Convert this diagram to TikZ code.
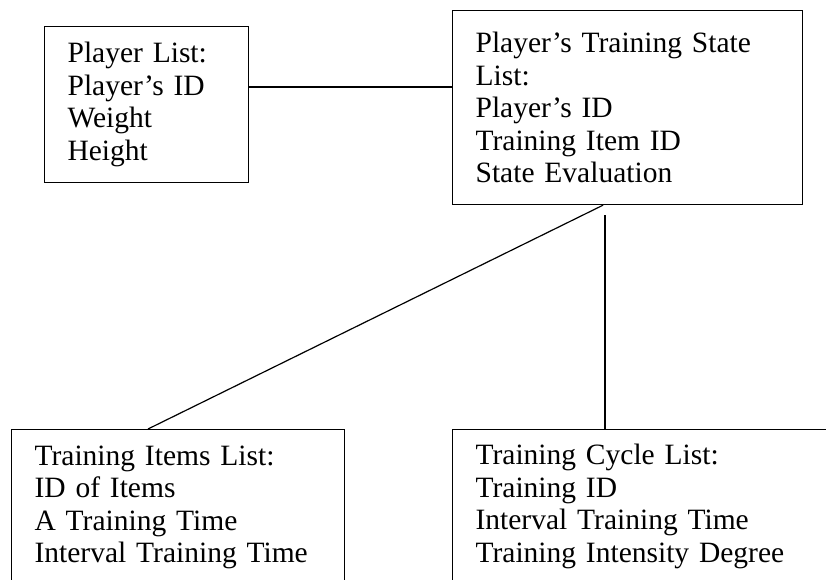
\documentclass[tikz,border=0pt]{standalone}
\usepackage{fontspec}
\setmainfont{Liberation Serif}
\begin{document}
\begin{tikzpicture}[x=1pt,y=-1pt,
  box/.style={draw, line width=1.2pt, align=left, inner xsep=23pt, inner ysep=0pt,
    anchor=north west, font=\fontsize{29.5}{32.5}\selectfont},
  link/.style={line width=1.2pt}]
\useasboundingbox (0,0) rectangle (826,580);
\clip (0,0) rectangle (826,580);
\node[box, text width=158pt, minimum height=156pt] (pl) at (44,26)
  {Player List:\\Player’s ID\\Weight\\Height};
\node[box, text width=304pt, minimum height=194pt] (ps) at (452,10)
  {Player’s Training State\\List:\\Player’s ID\\Training Item ID\\State Evaluation};
\node[box, text width=287pt, minimum height=156pt] (ti) at (11,429)
  {Training Items List:\\ID of Items\\A Training Time\\Interval Training Time};
\node[box, text width=354pt, minimum height=154pt] (tc) at (452,429)
  {Training Cycle List:\\Training ID\\Interval Training Time\\Training Intensity Degree};
\coordinate (h) at (0,87);
\coordinate (d1) at (603,0);
\coordinate (d2) at (148,0);
\coordinate (v) at (605,215);
\draw[link] (pl.east |- h) -- (ps.west |- h);
\draw[link] (ps.south -| d1) -- (ti.north -| d2);
\draw[link] (v) -- (tc.north -| v);
\end{tikzpicture}
\end{document}
